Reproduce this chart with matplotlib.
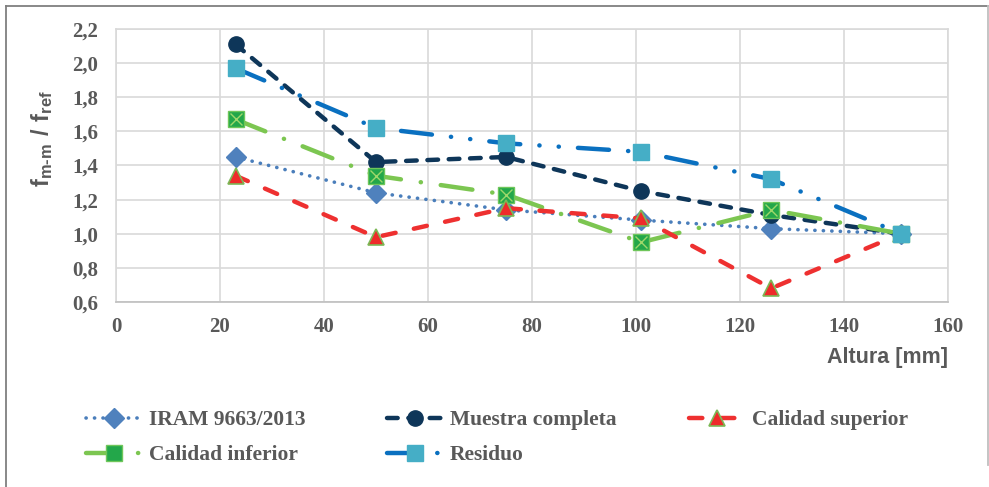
import matplotlib
matplotlib.use("Agg")
import matplotlib.pyplot as plt
from matplotlib.lines import Line2D
from matplotlib.ticker import FuncFormatter

plt.rcParams['mathtext.fontset'] = 'custom'
plt.rcParams['mathtext.bf'] = 'Liberation Sans:bold'
plt.rcParams['mathtext.rm'] = 'Liberation Sans:bold'

altura = [23, 50, 75, 101, 126, 151]
iram = [1.45, 1.24, 1.14, 1.08, 1.03, 1.00]
muestra = [2.11, 1.42, 1.45, 1.25, 1.11, 1.00]
cal_sup = [1.34, 0.98, 1.15, 1.09, 0.68, 1.00]
cal_inf = [1.67, 1.34, 1.23, 0.95, 1.14, 1.00]
residuo = [1.97, 1.62, 1.53, 1.48, 1.32, 1.00]

labels = ["IRAM 9663/2013", "Muestra completa", "Calidad superior",
          "Calidad inferior", "Residuo"]
x_ticks = [0, 20, 40, 60, 80, 100, 120, 140, 160]
y_ticks = [0.6, 0.8, 1.0, 1.2, 1.4, 1.6, 1.8, 2.0, 2.2]

W, H = 989, 487
fig = plt.figure(figsize=(W / 100, H / 100), dpi=100)
ax = fig.add_axes([116 / W, 1 - 302 / H, (948 - 116) / W, (302 - 29) / H])

txt_col = '#595959'
grid_col = '#D9D9D9'

l_iram, = ax.plot(altura, iram, color='#4A7EBB', lw=2.6,
                  linestyle=(0, (0.05, 2.3)), dash_capstyle='round',
                  marker='D', ms=10, mfc='#4F81BD', mec='#4F81BD', zorder=3)
l_mue, = ax.plot(altura, muestra, color='#0E3659', lw=3.2,
                 linestyle=(0, (2.4, 2.4)), dash_capstyle='round',
                 marker='o', ms=11, mfc='#0E3659', mec='#0E3659', zorder=4)
l_inf, = ax.plot(altura, cal_inf, color='#7CC651', lw=3.2,
                 linestyle=(0, (7.2, 4.5, 0.05, 4.5)), dash_capstyle='round',
                 marker='s', ms=11, mfc='#23A74A', mec='#6FC65A', zorder=5)
ax.plot(altura, cal_inf, linestyle='none', marker='x', ms=8, mew=1.0,
        mec='#9ED86A', zorder=5.1)
l_sup, = ax.plot(altura, cal_sup, color='#EE3030', lw=3.2,
                 linestyle=(0, (3.0, 4.2)), dash_capstyle='round',
                 marker='^', ms=12, mfc='#EE2A2A', mec='#7CB856', mew=1.2,
                 zorder=6)
l_res, = ax.plot(altura, residuo, color='#0A70C0', lw=3.2,
                 linestyle=(0, (7, 4.3, 0.05, 4.3, 0.05, 4.3)),
                 dash_capstyle='round',
                 marker='s', ms=11, mfc='#45AEC6', mec='#45AEC6', zorder=7)

ax.set_xlim(0, 160)
ax.set_ylim(0.6, 2.2)
ax.set_xticks(x_ticks)
ax.set_yticks(y_ticks)
ax.yaxis.set_major_formatter(FuncFormatter(lambda v, p: f"{v:.1f}".replace('.', ',')))
ax.grid(True, color=grid_col, lw=1.2)
ax.set_axisbelow(True)
for s in ax.spines.values():
    s.set_color(grid_col)
    s.set_linewidth(1.2)
ax.spines['bottom'].set_color('#BFBFBF')
ax.tick_params(length=0, labelsize=15, labelcolor=txt_col)
ax.tick_params(axis='y', pad=13)
ax.tick_params(axis='x', pad=11)
for lab in ax.get_xticklabels() + ax.get_yticklabels():
    lab.set_fontfamily('Liberation Serif')
    lab.set_fontweight('bold')

fig.text(948 / W, 1 - 357 / H, 'Altura [mm]', ha='right', va='center',
         fontsize=15.5, fontweight='bold', color=txt_col, family='Liberation Sans')
fig.text(42 / W, 1 - 139 / H, '$\\mathbf{f_{m\u2010m}\\ /\\ f_{ref}}$',
         rotation=90, ha='center', va='center', fontsize=17, color=txt_col)

leg_kw = dict(frameon=False,
              prop={'family': 'Liberation Serif', 'weight': 'bold', 'size': 15.5},
              handlelength=2.6, handletextpad=0.33,
              borderaxespad=0, borderpad=0, labelcolor=txt_col, loc='center left')
entries = [(l_iram, labels[0], 86, 420), (l_mue, labels[1], 387, 420),
           (l_sup, labels[2], 689, 420), (l_inf, labels[3], 86, 455),
           (l_res, labels[4], 387, 455)]
for h, lab, xp, yp in entries:
    fig.legend([h], [lab], bbox_to_anchor=(xp / W, 1 - yp / H), **leg_kw)

# outer chart frame (top, left, right)
frame_kw = dict(color='#7F7F7F', lw=1.3, transform=fig.transFigure)
fig.add_artist(Line2D([5.5 / W, 988 / W], [1 - 5.5 / H, 1 - 5.5 / H], **frame_kw))
fig.add_artist(Line2D([5.5 / W, 5.5 / W], [0, 1 - 5.5 / H], **frame_kw))
fig.add_artist(Line2D([988 / W, 988 / W], [1 - 465 / H, 1 - 5.5 / H],
                      color='#BFBFBF', lw=1.3, transform=fig.transFigure))

fig.savefig('out.png', dpi=100)
